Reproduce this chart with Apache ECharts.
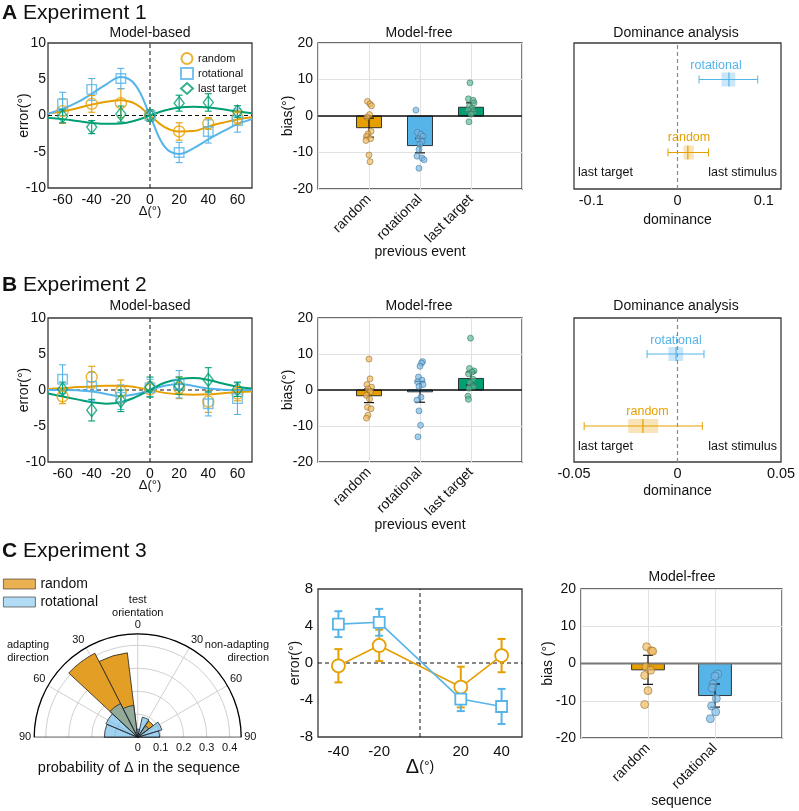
<!DOCTYPE html>
<html><head><meta charset="utf-8">
<script src="https://cdn.jsdelivr.net/npm/echarts@6/dist/echarts.min.js"></script>
<style>html,body{margin:0;padding:0;background:#fff}#c{width:799px;height:811px}</style>
</head><body><div id="c"></div>
<script>
// ---------------- DATA ----------------
const deltaTicks = [-60,-40,-20,0,20,40,60];
const curveX = [-70,-60,-50,-40,-30,-20,-10,0,10,20,30,40,50,60,70];
// Experiment 1, model-based
const A_rand = [0.6,1.6,1.7,0,-2.2,-1.1,-0.3];
const A_randErr = [1.7,1.15,2.0,0.6,1.2,0.8,0.9];
const A_rot = [1.6,3.6,5.1,0,-5.1,-2.2,-0.7];
const A_rotErr = [1.6,1.5,1.4,0.8,1.4,1.6,1.6];
const A_lt = [-0.1,-1.6,0.2,0,1.7,1.8,0.55];
const A_ltErr = [0.9,0.9,1.1,0.8,1.1,1.2,0.8];
const A_randFit = [0.3,0.55,1.0,1.5,1.9,2.1,1.6,0,-1.6,-2.2,-2.15,-1.5,-1.0,-0.55,-0.25];
const A_rotFit = [0.25,0.9,1.8,3.0,4.3,5.3,4.2,0,-4.3,-5.3,-4.5,-3.3,-2.2,-1.2,-0.5];
const A_ltFit = [-0.3,-0.5,-0.75,-1.0,-1.15,-1.1,-0.7,0,0.7,1.1,1.2,1.1,0.85,0.55,0.3];
// Experiment 2, model-based
const B_rand = [-0.9,1.8,-0.2,0.1,0.3,-1.6,-0.5];
const B_randErr = [1.0,1.5,1.6,1.0,1.5,1.5,1.0];
const B_rot = [1.5,0.5,-1.0,0.3,0.8,-1.9,-1.2];
const B_rotErr = [2.0,2.0,1.7,1.2,1.9,1.7,2.2];
const B_lt = [0.1,-2.8,-1.5,0.4,0.6,1.4,0.1];
const B_ltErr = [1.0,1.5,1.5,1.4,1.2,1.7,1.0];
const B_randFit = [0.15,0.25,0.4,0.5,0.6,0.6,0.4,0,-0.4,-0.6,-0.65,-0.6,-0.45,-0.3,-0.2];
const B_rotFit = [0,0,-0.05,-0.2,-0.55,-0.85,-0.6,0,0.6,0.85,0.55,0.2,0.05,0,0];
const B_ltFit = [-0.5,-0.9,-1.3,-1.7,-1.9,-1.7,-1.0,0,1.0,1.5,1.65,1.4,0.9,0.45,0.2];
// model-free (categories)
const mfCats = ['random','rotational','last target'];
const A_mfBar = [-3.2,-8.1,2.4];
const A_mfErr = [2.6,2.0,1.2];
const A_mfRandDots = [4.0,3.3,2.8,0.4,-0.3,-4.2,-4.9,-5.6,-6.2,-6.7,-10.7,-12.5];
const A_mfRandJit  = [-0.03,0.02,0.05,0.01,-0.04,0.04,-0.02,-0.05,0.03,-0.06,0.0,0.02];
const A_mfRotDots  = [1.6,-4.5,-5.0,-5.6,-6.3,-7.0,-7.8,-9.2,-11.0,-11.5,-12.0,-14.3];
const A_mfRotJit   = [-0.08,-0.05,0.02,0.06,-0.03,0.04,0.0,-0.02,-0.06,0.04,0.08,-0.02];
const A_mfLtDots   = [9.1,4.7,4.3,3.6,2.7,2.1,1.6,1.1,0.5,-1.6];
const A_mfLtJit    = [-0.02,-0.05,0.04,0.06,-0.03,0.02,-0.06,0.05,0.0,-0.04];
const B_mfBar = [-1.6,-0.5,3.2];
const B_mfErr = [1.9,2.9,1.8];
const B_mfRandDots = [8.6,3.1,1.5,0.8,0.3,-0.5,-1.5,-2.5,-4.8,-5.2,-7.0,-7.8];
const B_mfRandJit  = [0.0,0.02,-0.04,0.05,-0.02,0.03,-0.05,0.01,-0.03,0.04,-0.02,-0.05];
const B_mfRotDots  = [7.9,7.5,6.6,3.6,2.7,2.3,1.5,1.0,-2.0,-2.8,-5.8,-9.8,-13.0];
const B_mfRotJit   = [0.05,0.03,0.0,-0.03,0.04,-0.05,0.06,-0.02,0.02,-0.06,-0.02,0.01,-0.04];
const B_mfLtDots   = [14.4,6.0,5.3,5.0,4.5,3.0,2.0,1.0,0.5,-1.7,-2.6];
const B_mfLtJit    = [-0.01,-0.03,0.06,0.02,-0.05,0.04,-0.02,0.05,-0.04,-0.06,-0.05];
// Experiment 3
const C_cats = ['random','rotational'];
const C_dx = [-40,-20,20,40];
const C_rand = [-0.3,1.9,-2.6,0.8];
const C_randErr = [1.8,1.7,2.2,1.8];
const C_rot = [4.2,4.4,-3.9,-4.7];
const C_rotErr = [1.4,1.45,1.3,1.9];
const C_mfBar = [-1.7,-8.6];
const C_mfErr = [3.9,3.1];
const C_mfRandDots = [4.5,3.4,3.3,-0.9,-1.8,-3.2,-7.3,-11.0];
const C_mfRandJit  = [-0.02,0.05,0.07,-0.03,0.04,-0.05,0.0,-0.05];
const C_mfRotDots  = [-2.8,-3.4,-5.5,-6.6,-9.4,-11.4,-13.0,-14.8];
const C_mfRotJit   = [0.04,0.0,-0.03,-0.04,0.02,-0.05,0.01,-0.07];
// dominance: [low whisker, q1, median, q3, high whisker]
const A_domRot  = [0.025,0.051,0.0596,0.067,0.093];
const A_domRand = [-0.011,0.007,0.012,0.019,0.036];
const B_domRot  = [-0.0147,-0.0044,-0.0007,0.0028,0.0128];
const B_domRand = [-0.0451,-0.0238,-0.0167,-0.0093,0.012];
// polar histogram wedges: [angle start, angle end, probability]; positive angle = adapting direction
const polarRand = [[7,27,0.37],[27,47,0.41],[-33,-53,0.085]];
const polarRot  = [[67,90,0.145],[47,67,0.15],[27,47,0.165],[7,27,0.14],[-13,7,0.035],[-33,-13,0.09],[-53,-33,0.06],[-73,-53,0.11],[-90,-73,0.095]];

// ---------------- STYLE ----------------
const FONT = "'Liberation Sans', Arial, Helvetica, sans-serif";
const C_RAND = '#E69F00', C_ROT = '#56B4E9', C_LT = '#009E73';
const barColors = [C_RAND, C_ROT, C_LT];
const dotFill = ['rgba(240,185,95,0.85)','rgba(120,185,230,0.85)','rgba(95,185,150,0.85)'];
const dotEdge = ['#8a6520','#3b6f93','#2f6e58'];
const TXT = '#111';

const pairs = (xs, ys) => xs.map((x,i)=>[x, ys[i]]);
const errData = (xs, ys, es) => xs.map((x,i)=>[x, ys[i]-es[i], ys[i]+es[i]]);
const jitData = (cat, vals, jit) => vals.map((v,i)=>[cat + jit[i], v]);

function errRender(cap, color, lw){
  return function(params, api){
    const x = api.value(0);
    const p1 = api.coord([x, api.value(1)]), p2 = api.coord([x, api.value(2)]);
    const st = {stroke: color, lineWidth: lw};
    return {type:'group', children:[
      {type:'line', shape:{x1:p1[0],y1:p1[1],x2:p2[0],y2:p2[1]}, style:st},
      {type:'line', shape:{x1:p1[0]-cap,y1:p1[1],x2:p1[0]+cap,y2:p1[1]}, style:st},
      {type:'line', shape:{x1:p2[0]-cap,y1:p2[1],x2:p2[0]+cap,y2:p2[1]}, style:st}
    ]};
  };
}
function barRender(halfW){
  return function(params, api){
    const x = api.value(0), v = api.value(1), ci = api.value(2);
    const a = api.coord([x-halfW, Math.max(v,0)]), b = api.coord([x+halfW, Math.min(v,0)]);
    return {type:'rect', shape:{x:a[0], y:a[1], width:b[0]-a[0], height:b[1]-a[1]},
      style:{fill: barColors[ci], stroke:'#222', lineWidth:0.9}};
  };
}
function boxRender(color, fill){
  return function(params, api){
    const y = api.value(0);
    const pl = api.coord([api.value(1), y]), q1 = api.coord([api.value(2), y]);
    const md = api.coord([api.value(3), y]), q3 = api.coord([api.value(4), y]);
    const ph = api.coord([api.value(5), y]);
    const cy = pl[1], bh = 7, ch = 4;
    const st = {stroke: color, lineWidth: 1};
    return {type:'group', children:[
      {type:'line', shape:{x1:pl[0],y1:cy,x2:ph[0],y2:cy}, style:st},
      {type:'line', shape:{x1:pl[0],y1:cy-ch,x2:pl[0],y2:cy+ch}, style:st},
      {type:'line', shape:{x1:ph[0],y1:cy-ch,x2:ph[0],y2:cy+ch}, style:st},
      {type:'rect', shape:{x:q1[0], y:cy-bh, width:q3[0]-q1[0], height:2*bh}, style:{fill: fill}},
      {type:'line', shape:{x1:md[0],y1:cy-bh,x2:md[0],y2:cy+bh}, style:{stroke:color, lineWidth:1.2}}
    ]};
  };
}
function wedgeRender(fill, stroke){
  return function(params, api){
    const cs = params.coordSys;
    const r = api.value(2);
    const p0 = api.coord([r, api.value(0)]), p1 = api.coord([r, api.value(1)]);
    const rp = Math.hypot(p0[0]-cs.cx, p0[1]-cs.cy);
    let t0 = Math.atan2(p0[1]-cs.cy, p0[0]-cs.cx), t1 = Math.atan2(p1[1]-cs.cy, p1[0]-cs.cx);
    if (t0 > 0.001) t0 -= 2*Math.PI;
    if (t1 > 0.001) t1 -= 2*Math.PI;
    return {type:'sector', shape:{cx:cs.cx, cy:cs.cy, r0:0, r:rp,
      startAngle:Math.min(t0,t1), endAngle:Math.max(t0,t1), clockwise:true},
      style:{fill: fill, stroke: stroke, lineWidth:0.8}};
  };
}

// ---------------- LAYOUT ----------------
const gridBox = {show:true, borderColor:'#3a3a3a', borderWidth:1.3, backgroundColor:'transparent'};
const grids = [
  {left:48, top:43, width:204, height:145},
  {left:318, top:43, width:204, height:146},
  {left:574, top:43, width:207, height:146},
  {left:48, top:318, width:204, height:144},
  {left:318, top:318, width:204, height:144},
  {left:574, top:318, width:207, height:144},
  {left:318, top:589, width:204, height:148},
  {left:581, top:589, width:201, height:149}
].map(g => Object.assign({}, gridBox, g));

const lab = (extra) => Object.assign({color:TXT, fontSize:14, fontFamily:FONT}, extra||{});
const nameSt = (extra) => Object.assign({color:TXT, fontSize:14, fontFamily:FONT}, extra||{});
const noLine = {show:false};
const gridLine = {show:true, lineStyle:{color:'#e2e2e2', width:1}};

function mbX(gi, gap){ return {type:'value', gridIndex:gi, min:-70, max:70, axisLine:noLine, axisTick:{show:false},
  axisLabel:lab({customValues: deltaTicks, margin:5}), splitLine:{show:false},
  name:'Δ(°)', nameLocation:'middle', nameGap:gap, nameMoveOverlap:false, nameTextStyle:nameSt({fontSize:13})}; }
function mbY(gi){ return {type:'value', gridIndex:gi, min:-10, max:10, interval:5, axisLine:noLine, axisTick:{show:false},
  axisLabel:lab({margin:2}), splitLine:{show:false},
  name:'error(°)', nameLocation:'middle', nameGap:17, nameMoveOverlap:false, nameTextStyle:nameSt()}; }
function mfX(gi, cats, max, nm){ return {type:'value', gridIndex:gi, min:0, max:max, interval:1, axisLine:noLine, axisTick:{show:false},
  axisLabel:lab({rotate:45, margin:8, formatter: v => cats[v-1] || ''}), splitLine:gridLine,
  name:nm, nameLocation:'middle', nameGap:56, nameMoveOverlap:false, nameTextStyle:nameSt()}; }
function mfY(gi, nm, gap){ return {type:'value', gridIndex:gi, min:-20, max:20, interval:10, axisLine:noLine, axisTick:{show:false},
  axisLabel:lab({margin:5}), splitLine:gridLine,
  name:nm, nameLocation:'middle', nameGap:gap, nameMoveOverlap:false, nameTextStyle:nameSt()}; }
function domX(gi, lim, ticks, gap){ return {type:'value', gridIndex:gi, min:-lim, max:lim, axisLine:noLine, axisTick:{show:false},
  axisLabel:lab({customValues:ticks, margin:4, fontSize:14.5, formatter: v => String(v)}), splitLine:{show:false},
  name:'dominance', nameLocation:'middle', nameGap:gap, nameMoveOverlap:false, nameTextStyle:nameSt()}; }
function domY(gi){ return {type:'value', gridIndex:gi, min:0, max:4, show:true, axisLine:noLine, axisTick:{show:false},
  axisLabel:{show:false}, splitLine:{show:false}}; }

const xAxes = [
  mbX(0,17), mfX(1, mfCats, 4, 'previous event'), domX(2, 0.12, [-0.1,0,0.1], 24),
  mbX(3,17), mfX(4, mfCats, 4, 'previous event'), domX(5, 0.05, [-0.05,0,0.05], 22),
  {type:'value', gridIndex:6, min:-50, max:50, axisLine:noLine, axisTick:{show:false},
    axisLabel:lab({customValues:C_dx, margin:7, fontSize:15}), splitLine:{show:false},
    name:'{d|Δ}{s|(°)}', nameLocation:'middle', nameGap:20, nameMoveOverlap:false,
    nameTextStyle:nameSt({rich:{d:{fontSize:20, fontFamily:FONT, color:TXT}, s:{fontSize:14, fontFamily:FONT, color:TXT}}})},
  mfX(7, C_cats, 3, 'sequence')
];
const yAxes = [
  mbY(0), mfY(1,'bias(°)',23), domY(2),
  mbY(3), mfY(4,'bias(°)',23), domY(5),
  {type:'value', gridIndex:6, min:-8, max:8, interval:4, axisLine:noLine, axisTick:{show:false},
    axisLabel:lab({margin:5, fontSize:15}), splitLine:{show:false},
    name:'error(°)', nameLocation:'middle', nameGap:16, nameMoveOverlap:false, nameTextStyle:nameSt()},
  mfY(7,'bias (°)',26)
];

// ---------------- SERIES ----------------
const series = [];
function ref(gi, pts, color, type, width, z){
  series.push({type:'line', xAxisIndex:gi, yAxisIndex:gi, data:pts, symbol:'none', silent:true,
    lineStyle:{color:color, type:type, width:width}, z:z||1});
}
function fit(gi, ys, color){
  series.push({type:'line', xAxisIndex:gi, yAxisIndex:gi, data:pairs(curveX, ys), symbol:'none', smooth:0.4, silent:true,
    lineStyle:{color:color, width:2}, z:3});
}
function errs(gi, xs, ys, es, color, cap, lw){
  series.push({type:'custom', xAxisIndex:gi, yAxisIndex:gi, data:errData(xs, ys, es), renderItem:errRender(cap, color, lw), silent:true, z:4});
}
function marks(gi, name, ys, symbol, size, color){
  series.push({type:'scatter', name:name, xAxisIndex:gi, yAxisIndex:gi, data:pairs(deltaTicks, ys), symbol:symbol, symbolSize:size,
    itemStyle:{color:'rgba(255,255,255,0)', borderColor:color, borderWidth:1.4}, z:5});
}
// model-based panels
[[0, A_rand,A_randErr,A_rot,A_rotErr,A_lt,A_ltErr,A_randFit,A_rotFit,A_ltFit],
 [3, B_rand,B_randErr,B_rot,B_rotErr,B_lt,B_ltErr,B_randFit,B_rotFit,B_ltFit]].forEach(p => {
  const gi = p[0];
  ref(gi, [[-70,0],[70,0]], '#111', [4,3], 1, 2);
  ref(gi, [[0,-10],[0,10]], '#111', [4,3], 1, 2);
  fit(gi, p[7], C_RAND); fit(gi, p[8], C_ROT); fit(gi, p[9], C_LT);
  errs(gi, deltaTicks, p[1], p[2], C_RAND, 3.5, 1.1);
  errs(gi, deltaTicks, p[3], p[4], C_ROT, 3.5, 1.1);
  errs(gi, deltaTicks, p[5], p[6], C_LT, 3.5, 1.1);
  marks(gi, 'random', p[1], 'circle', 11, C_RAND);
  marks(gi, 'rotational', p[3], 'rect', 9.5, C_ROT);
  marks(gi, 'last target', p[5], 'diamond', [10,13], C_LT);
});
// model-free panels
function modelFree(gi, bars, errsArr, dots, jits, maxX, dotSize, zeroColor, zeroW){
  series.push({type:'custom', xAxisIndex:gi, yAxisIndex:gi, data:bars.map((v,i)=>[i+1, v, i]), renderItem:barRender(0.245), silent:true, z:2});
  ref(gi, [[0,0],[maxX,0]], zeroColor, 'solid', zeroW, 3);
  series.push({type:'custom', xAxisIndex:gi, yAxisIndex:gi, data:errData(bars.map((v,i)=>i+1), bars, errsArr), renderItem:errRender(5, '#111', 1.2), silent:true, z:4});
  dots.forEach((d,i) => {
    series.push({type:'scatter', xAxisIndex:gi, yAxisIndex:gi, data:jitData(i+1, d, jits[i]), symbol:'circle', symbolSize:dotSize,
      itemStyle:{color:dotFill[i], borderColor:dotEdge[i], borderWidth:0.7}, silent:true, z:5});
  });
}
modelFree(1, A_mfBar, A_mfErr, [A_mfRandDots,A_mfRotDots,A_mfLtDots], [A_mfRandJit,A_mfRotJit,A_mfLtJit], 4, 6, '#111', 1.3);
modelFree(4, B_mfBar, B_mfErr, [B_mfRandDots,B_mfRotDots,B_mfLtDots], [B_mfRandJit,B_mfRotJit,B_mfLtJit], 4, 6, '#111', 1.3);
modelFree(7, C_mfBar, C_mfErr, [C_mfRandDots,C_mfRotDots], [C_mfRandJit,C_mfRotJit], 3, 8, '#777', 2.2);
// dominance panels
function dominance(gi, rot, rnd){
  ref(gi, [[0,0],[0,4]], '#888', [4,3], 1.2, 1);
  series.push({type:'custom', xAxisIndex:gi, yAxisIndex:gi, data:[[3].concat(rot)], renderItem:boxRender(C_ROT,'rgba(86,180,233,0.32)'), silent:true, z:3});
  series.push({type:'custom', xAxisIndex:gi, yAxisIndex:gi, data:[[1].concat(rnd)], renderItem:boxRender(C_RAND,'rgba(230,159,0,0.28)'), silent:true, z:3});
}
dominance(2, A_domRot, A_domRand);
dominance(5, B_domRot, B_domRand);
// Experiment 3 middle panel
ref(6, [[-50,0],[50,0]], '#111', [4,3], 1, 1);
ref(6, [[0,-8],[0,8]], '#111', [4,3], 1, 1);
errs(6, C_dx, C_rand, C_randErr, C_RAND, 4, 2);
errs(6, C_dx, C_rot, C_rotErr, C_ROT, 4, 2);
series.push({type:'line', xAxisIndex:6, yAxisIndex:6, data:pairs(C_dx, C_rand), symbol:'circle', symbolSize:13,
  lineStyle:{color:C_RAND, width:1.6}, itemStyle:{color:'#fff', borderColor:C_RAND, borderWidth:1.8}, silent:true, z:5});
series.push({type:'line', xAxisIndex:6, yAxisIndex:6, data:pairs(C_dx, C_rot), symbol:'rect', symbolSize:11,
  lineStyle:{color:C_ROT, width:1.6}, itemStyle:{color:'#fff', borderColor:C_ROT, borderWidth:1.8}, silent:true, z:5});
// polar histogram
series.push({type:'custom', coordinateSystem:'polar', data:polarRand, renderItem:wedgeRender('#E39E25', '#222'), silent:true, z:3});
series.push({type:'custom', coordinateSystem:'polar', data:polarRot, renderItem:wedgeRender('rgba(95,179,232,0.6)', '#222'), silent:true, z:4});
series.push({type:'line', coordinateSystem:'polar', data:[[0.45,90],[0.45,-90]], symbol:'none', silent:true,
  lineStyle:{color:'#000', width:1.3}, z:6});

// ---------------- TEXT ----------------
const txt = (x, y, text, opt) => ({type:'text', x:x, y:y, silent:true,
  style:Object.assign({text:text, fill:TXT, font:'14px ' + FONT, textAlign:'center', textVerticalAlign:'middle'}, opt||{})});
const panelHead = (y, letter, label) => ({type:'text', x:2, y:y, silent:true,
  style:{text:'{b|' + letter + '} ' + label, fill:TXT, font:'21px ' + FONT, textVerticalAlign:'middle',
    rich:{b:{fontWeight:'bold', fontSize:21, fontFamily:FONT, fill:TXT}}}});
const graphics = [
  panelHead(13, 'A', 'Experiment 1'),
  panelHead(285, 'B', 'Experiment 2'),
  panelHead(551, 'C', 'Experiment 3'),
  txt(150, 33, 'Model-based'), txt(419, 33.5, 'Model-free'), txt(676, 33.5, 'Dominance analysis'),
  txt(150, 306, 'Model-based'), txt(419, 306, 'Model-free'), txt(676, 306, 'Dominance analysis'),
  txt(682, 577, 'Model-free'),
  txt(716, 66, 'rotational', {fill:C_ROT, font:'12.5px ' + FONT}),
  txt(689, 138, 'random', {fill:C_RAND, font:'12.5px ' + FONT}),
  txt(578, 173, 'last target', {textAlign:'left', font:'12.5px ' + FONT}),
  txt(777, 173, 'last stimulus', {textAlign:'right', font:'12.5px ' + FONT}),
  txt(676, 341, 'rotational', {fill:C_ROT, font:'12.5px ' + FONT}),
  txt(647.5, 412, 'random', {fill:C_RAND, font:'12.5px ' + FONT}),
  txt(578, 447, 'last target', {textAlign:'left', font:'12.5px ' + FONT}),
  txt(777, 447, 'last stimulus', {textAlign:'right', font:'12.5px ' + FONT}),
  txt(137.7, 606, 'test\norientation', {font:'11px ' + FONT, lineHeight:13}),
  txt(28, 651, 'adapting\ndirection', {font:'11px ' + FONT, lineHeight:13}),
  txt(269, 651, 'non-adapting\ndirection', {textAlign:'right', font:'11px ' + FONT, lineHeight:13}),
  txt(139, 768, 'probability of Δ in the sequence', {font:'14.5px ' + FONT})
];

// ---------------- OPTION ----------------
const option = {
  animation:false,
  backgroundColor:'#fff',
  textStyle:{fontFamily:FONT},
  grid:grids, xAxis:xAxes, yAxis:yAxes,
  polar:{center:[137.7, 737.3], radius:103.5},
  angleAxis:{type:'value', min:-90, max:90, interval:30, startAngle:0, endAngle:180, clockwise:false,
    axisLine:{lineStyle:{color:'#000', width:1.3}}, axisTick:{show:false},
    axisLabel:{color:TXT, fontSize:11, fontFamily:FONT, margin:3, formatter: v => String(Math.abs(v))},
    splitLine:{show:true, lineStyle:{color:'#d0d0d0', width:1}}},
  radiusAxis:{type:'value', min:0, max:0.45, interval:0.1, axisLine:{show:false}, axisTick:{show:false},
    axisLabel:{customValues:[0,0.1,0.2,0.3,0.4], color:TXT, fontSize:11, fontFamily:FONT, margin:-5, verticalAlign:'top'},
    splitLine:{show:true, lineStyle:{color:'#d0d0d0', width:1}}},
  legend:[
    {orient:'vertical', left:175, top:47, itemWidth:12, itemHeight:11, itemGap:2, selectedMode:false,
      textStyle:{fontSize:11, color:TXT, fontFamily:FONT},
      data:['random','rotational','last target']},
    {orient:'vertical', left:3, top:577, padding:0, itemWidth:32, itemHeight:10, itemGap:4, selectedMode:false,
      textStyle:{fontSize:14, color:TXT, fontFamily:FONT},
      data:[{name:'random', icon:'rect', itemStyle:{color:'#E39E25', borderColor:'#333', borderWidth:0.8}},
            {name:'rotational', icon:'rect', itemStyle:{color:'rgba(95,179,232,0.6)', borderColor:'#333', borderWidth:0.8}}]}
  ],
  graphic:graphics,
  series:series
};
const chart = echarts.init(document.getElementById('c'), null, {renderer:'canvas'});
chart.setOption(option);
</script></body></html>
